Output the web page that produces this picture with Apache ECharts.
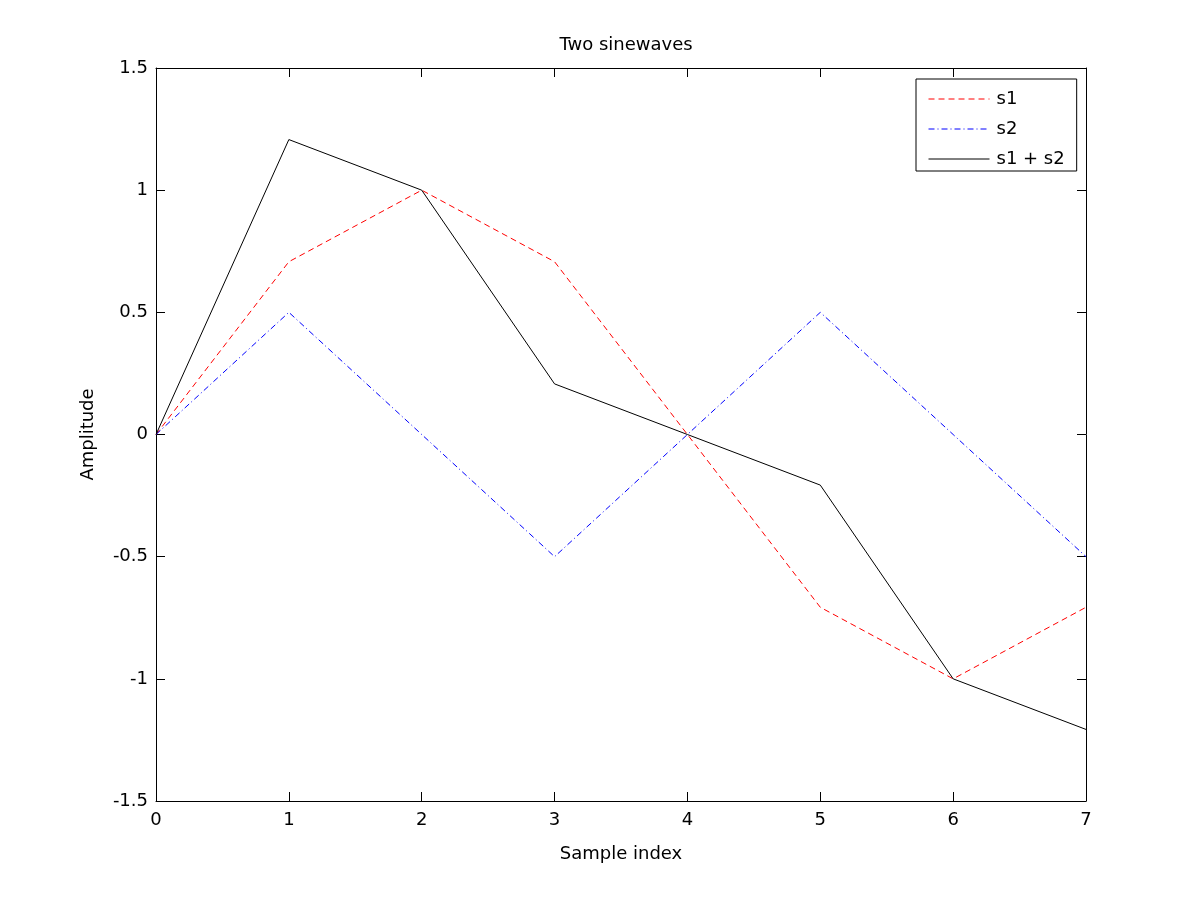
<!DOCTYPE html>
<html>
<head>
<meta charset="utf-8">
<script src="https://cdn.jsdelivr.net/npm/echarts@6/dist/echarts.min.js"></script>
<style>
html,body{margin:0;padding:0;background:#fff;}
#chart{width:1200px;height:901px;}
</style>
</head>
<body>
<div id="chart"></div>
<script>
const sampleIndex = [0, 1, 2, 3, 4, 5, 6, 7];
const s1 = [0, 0.7071, 1, 0.7071, 0, -0.7071, -1, -0.7071];
const s2 = [0, 0.5, 0, -0.5, 0, 0.5, 0, -0.5];
const s1s2 = [0, 1.2071, 1, 0.2071, 0, -0.2071, -1, -1.2071];
const seriesNames = ['s1', 's2', 's1 + s2'];

const FONT = '"DejaVu Sans", "Liberation Sans", Arial, sans-serif';
const FS = 18;
const pairs = arr => sampleIndex.map((x, i) => [x, arr[i]]);

const chart = echarts.init(document.getElementById('chart'), null, {renderer: 'canvas'});

const axisCommon = {
  axisLine: {show: true, onZero: false, lineStyle: {color: '#000', width: 1}},
  axisTick: {show: true, inside: true, length: 9, lineStyle: {color: '#000', width: 1}},
  splitLine: {show: false}
};

chart.setOption({
  backgroundColor: '#fff',
  animation: false,
  title: {
    text: 'Two sinewaves',
    left: 621,
    textAlign: 'center',
    top: 31,
    textStyle: {fontFamily: FONT, fontSize: FS, fontWeight: 'normal', color: '#000'}
  },
  grid: {left: 156, top: 68, width: 930, height: 733, containLabel: false},
  legend: {
    orient: 'vertical',
    left: 916,
    top: 79,
    width: 160,
    padding: [11, 12, 3, 12],
    itemGap: 12,
    itemWidth: 61,
    itemHeight: 18,
    borderColor: '#000',
    borderWidth: 1,
    backgroundColor: '#fff',
    itemStyle: {opacity: 0},
    lineStyle: {width: 1},
    textStyle: {fontFamily: FONT, fontSize: FS, color: '#000', padding: [0, 0, 0, 2]},
    data: seriesNames
  },
  xAxis: [
    Object.assign({
      type: 'value', min: 0, max: 7, interval: 1, position: 'bottom',
      name: 'Sample index', nameLocation: 'middle', nameGap: 44,
      nameTextStyle: {fontFamily: FONT, fontSize: FS, color: '#000'},
      axisLabel: {fontFamily: FONT, fontSize: FS, color: '#000', margin: 10}
    }, axisCommon),
    Object.assign({
      type: 'value', min: 0, max: 7, interval: 1, position: 'top',
      axisLabel: {show: false}
    }, axisCommon)
  ],
  yAxis: [
    Object.assign({
      type: 'value', min: -1.5, max: 1.5, interval: 0.5, position: 'left',
      name: 'Amplitude', nameLocation: 'middle', nameGap: 59, nameRotate: 90,
      nameTextStyle: {fontFamily: FONT, fontSize: FS, color: '#000'},
      axisLabel: {fontFamily: FONT, fontSize: FS, color: '#000', margin: 8}
    }, axisCommon),
    Object.assign({
      type: 'value', min: -1.5, max: 1.5, interval: 0.5, position: 'right',
      axisLabel: {show: false}
    }, axisCommon)
  ],
  series: [
    {
      name: seriesNames[0], type: 'line', data: pairs(s1), symbol: 'none',
      lineStyle: {color: '#ff0000', width: 1, type: [6, 4]},
      itemStyle: {color: '#ff0000'}
    },
    {
      name: seriesNames[1], type: 'line', data: pairs(s2), symbol: 'none',
      lineStyle: {color: '#0000ff', width: 1, type: [6, 3, 1, 3]},
      itemStyle: {color: '#0000ff'}
    },
    {
      name: seriesNames[2], type: 'line', data: pairs(s1s2), symbol: 'none',
      lineStyle: {color: '#000000', width: 1, type: 'solid'},
      itemStyle: {color: '#000000'}
    }
  ]
});
</script>
</body>
</html>
